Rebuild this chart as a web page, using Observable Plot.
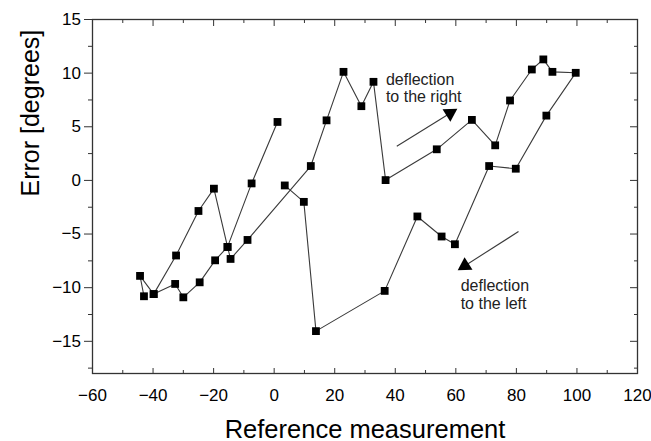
<!DOCTYPE html>
<html><head><meta charset="utf-8">
<script src="https://cdn.jsdelivr.net/npm/d3@7"></script>
<script src="https://cdn.jsdelivr.net/npm/@observablehq/plot@0.6"></script>
<style>body{margin:0;background:#fff}</style>
</head><body><div id="chart"></div>
<script>
// ---- data ----
const seriesNames = ["sweep A", "sweep B"];
const sweepAX = [-43.0, -44.3, -39.8, -32.4, -25.0, -19.9, -15.4, -7.45, 1.1];
const sweepAY = [-10.8, -8.9, -10.6, -7.0, -2.85, -0.77, -6.2, -0.28, 5.45];
const sweepBX = [-39.8, -32.7, -30.0, -24.6, -19.5, -15.4, -14.4, -8.8, 12.1, 17.3, 22.9, 28.8, 32.8, 36.8, 53.7, 65.3, 73.0, 77.9, 85.1, 88.9, 91.9, 99.6, 89.9, 79.8, 71.0, 59.7, 55.3, 47.3, 36.5, 13.8, 9.8, 3.5];
const sweepBY = [-10.6, -9.65, -10.9, -9.5, -7.45, -6.2, -7.32, -5.55, 1.34, 5.6, 10.12, 6.92, 9.19, 0.03, 2.9, 5.64, 3.27, 7.45, 10.34, 11.28, 10.12, 10.03, 6.04, 1.09, 1.34, -5.95, -5.23, -3.36, -10.3, -14.05, -2.0, -0.47];
const xTicks = [-60, -40, -20, 0, 20, 40, 60, 80, 100, 120];
const xMinor = [-50, -30, -10, 10, 30, 50, 70, 90, 110];
const yTicks = [-15, -10, -5, 0, 5, 10, 15];
const yMinor = [-17.5, -12.5, -7.5, -2.5, 2.5, 7.5, 12.5];
const xDomain = [-60, 120];
const yDomain = [-18, 15];
const noteTexts = ["deflection\nto the right", "deflection\nto the left"];
const noteX = [36.9, 61.6];
const noteY = [10.1, -9.19];
const arrowX1 = [40.5, 80.7];
const arrowY1 = [3.18, -4.77];
const arrowX2 = [58.1, 63.0];
const arrowY2 = [6.26, -7.95];
const xTitle = "Reference measurement";
const yTitle = "Error [degrees]";

// ---- build tables ----
const rows = [];
sweepAX.forEach((x, i) => rows.push({series: seriesNames[0], x, y: sweepAY[i]}));
sweepBX.forEach((x, i) => rows.push({series: seriesNames[1], x, y: sweepBY[i]}));
const notes = noteTexts.map((t, i) => ({text: t, x: noteX[i], y: noteY[i]}));
const arrows = arrowX1.map((x1, i) => ({x1, y1: arrowY1[i], x2: arrowX2[i], y2: arrowY2[i]}));

const W = 651, H = 441, mL = 92, mR = 14, mT = 19, mB = 68;
const kx = (W - mL - mR) / (xDomain[1] - xDomain[0]);
const ky = (H - mT - mB) / (yDomain[1] - yDomain[0]);
const angle = d => Math.atan2(-(d.y2 - d.y1) * ky, (d.x2 - d.x1) * kx) * 180 / Math.PI + 90;

const ink = "#222";
const axisCol = "#333";
const font = "Liberation Sans, Arial, sans-serif";

const chart = Plot.plot({
  width: W, height: H,
  marginLeft: mL, marginRight: mR, marginTop: mT, marginBottom: mB,
  style: {fontFamily: font, background: "white", color: "black"},
  x: {domain: xDomain, label: null},
  y: {domain: yDomain, label: null},
  marks: [
    Plot.frame({stroke: axisCol, strokeWidth: 1.3}),
    // left axis: outward ticks + labels
    Plot.axisY({anchor: "left", ticks: yTicks, tickSize: 8, tickPadding: 3.5, fontSize: 17, stroke: axisCol, label: null}),
    Plot.axisY({anchor: "left", ticks: yMinor, tickSize: 4, text: null, stroke: axisCol, label: null}),
    // right axis: inward ticks
    Plot.axisY({anchor: "right", ticks: yTicks, tickSize: 8, insetRight: 8, text: null, stroke: axisCol, label: null}),
    Plot.axisY({anchor: "right", ticks: yMinor, tickSize: 4, insetRight: 4, text: null, stroke: axisCol, label: null}),
    // bottom axis: inward ticks + labels
    Plot.axisX({anchor: "bottom", ticks: xTicks, tickSize: 5, insetBottom: 5, text: null, stroke: axisCol, label: null}),
    Plot.axisX({anchor: "bottom", ticks: xMinor, tickSize: 3, insetBottom: 3, text: null, stroke: axisCol, label: null}),
    Plot.axisX({anchor: "bottom", ticks: xTicks, tickSize: 0, tickPadding: 15, fontSize: 17, label: null}),
    // top axis: inward ticks
    Plot.axisX({anchor: "top", ticks: xTicks, tickSize: 6, insetTop: 6, text: null, stroke: axisCol, label: null}),
    Plot.axisX({anchor: "top", ticks: xMinor, tickSize: 3, insetTop: 3, text: null, stroke: axisCol, label: null}),
    // data
    Plot.line(rows, {x: "x", y: "y", z: "series", stroke: "#3a3a3a", strokeWidth: 1.1}),
    Plot.dot(rows, {x: "x", y: "y", symbol: "square", fill: "black", r: 4.4}),
    // annotations
    Plot.link(arrows, {x1: "x1", y1: "y1", x2: "x2", y2: "y2", stroke: "#3a3a3a", strokeWidth: 1.1}),
    Plot.dot(arrows, {x: "x2", y: "y2", symbol: "triangle", fill: "black", r: 5.5, rotate: angle}),
    Plot.text(notes, {x: "x", y: "y", text: "text", textAnchor: "start", lineAnchor: "top", lineHeight: 1.1, fontSize: 16, fill: ink}),
    // axis titles
    Plot.text([xTitle], {text: d => d, frameAnchor: "bottom", dy: 64, lineAnchor: "bottom", fontSize: 25.5, fill: "black"}),
    Plot.text([yTitle], {text: d => d, frameAnchor: "left", dx: -62, rotate: -90, lineAnchor: "middle", fontSize: 25, fill: "black"})
  ]
});
document.getElementById("chart").append(chart);
</script>
</body></html>
